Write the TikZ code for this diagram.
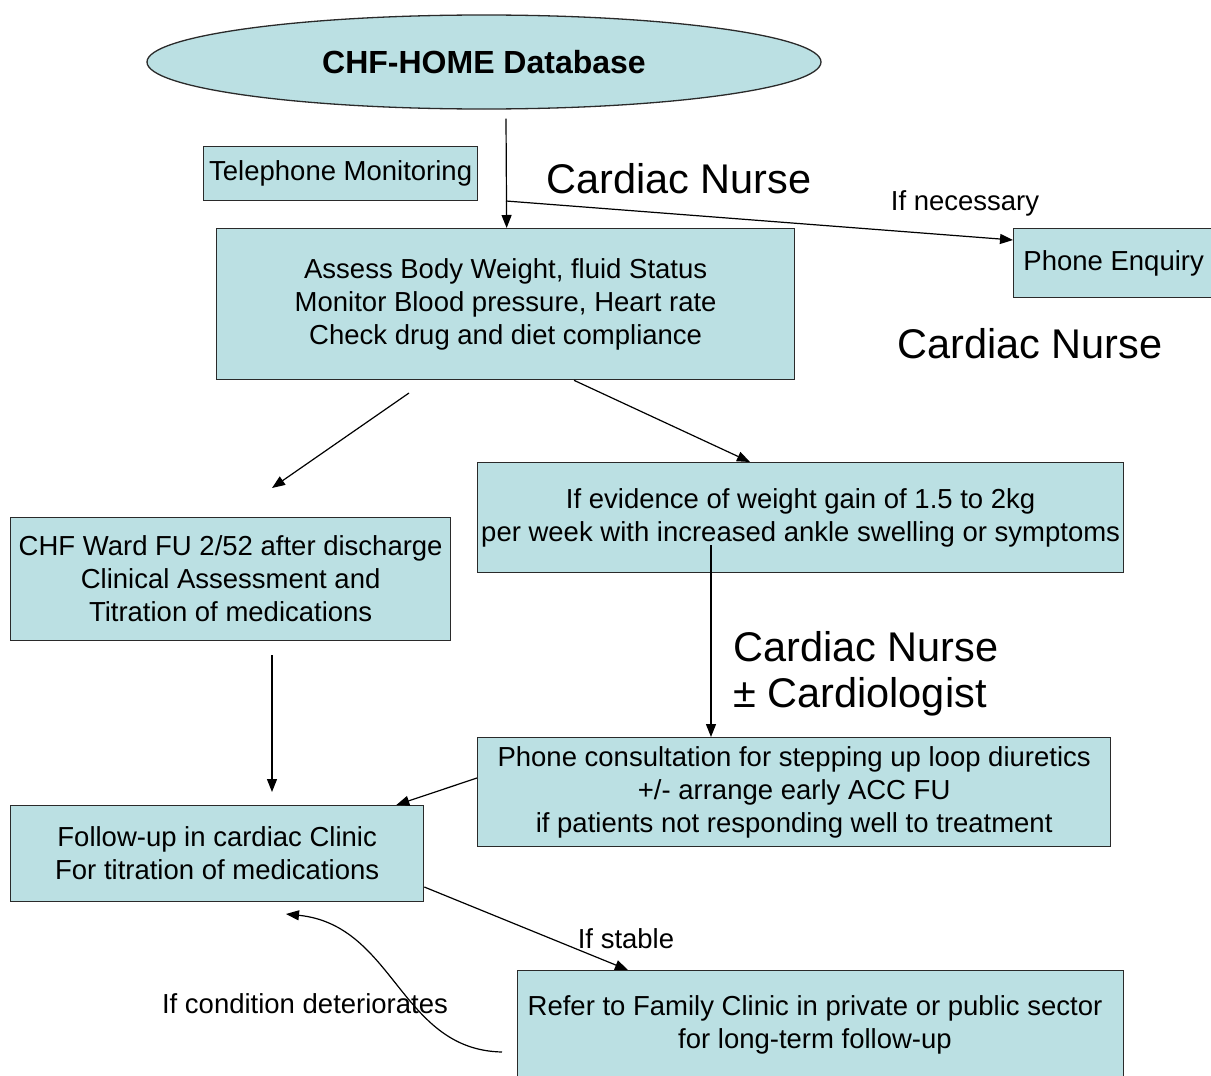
\documentclass[tikz,border=0pt]{standalone}
\usepackage{fontspec}
\setmainfont{Liberation Sans}
\usetikzlibrary{shapes.geometric,arrows.meta}
\definecolor{boxfill}{HTML}{BBE0E3}
\definecolor{edge}{HTML}{2A2A2A}
\begin{document}
\begin{tikzpicture}[x=1pt,y=-1pt,
 box/.style={draw=edge, line width=1.3pt, fill=boxfill, align=center, inner sep=0pt, anchor=north west, font=\fontsize{27.5}{33}\selectfont},
 arr/.style={-{Triangle[length=13pt,width=10pt]}, line width=1.2pt},
 lbl/.style={font=\fontsize{27.5}{33}\selectfont, inner sep=0pt},
 big/.style={font=\fontsize{41.5}{50}\selectfont, inner sep=0pt, align=left}]
\useasboundingbox (0,0) rectangle (1211,1076);
\fill[white] (0,0) rectangle (1211,1076);

\node[ellipse, draw=edge, fill=boxfill, minimum width=674pt, minimum height=94pt, inner sep=0pt, line width=1.3pt, font=\bfseries\fontsize{32}{36}\selectfont] (db) at (484,62) {CHF-HOME Database};

\node[box, minimum width=274pt, minimum height=54pt] (tel) at (203,146) {Telephone Monitoring};
\node[box, minimum width=578pt, minimum height=151pt] (assess) at (216,228) {Assess Body Weight, fluid Status\\Monitor Blood pressure, Heart rate\\Check drug and diet compliance};
\node[box, minimum width=200pt, minimum height=69pt] (phone) at (1013,228) {Phone Enquiry};
\node[box, minimum width=646pt, minimum height=110pt] (weight) at (477,462) {If evidence of weight gain of 1.5 to 2kg\\per week with increased ankle swelling or symptoms};
\node[box, minimum width=440pt, minimum height=123pt] (ward) at (10,517) {CHF Ward FU 2/52 after discharge\\Clinical Assessment and\\Titration of medications};
\node[box, minimum width=633pt, minimum height=109pt] (consult) at (477,737) {Phone consultation for stepping up loop diuretics\\+/- arrange early ACC FU\\if patients not responding well to treatment};
\node[box, minimum width=413pt, minimum height=96pt] (follow) at (10,805) {Follow-up in cardiac Clinic\\For titration of medications};
\node[box, minimum width=606pt, minimum height=140pt] (refer) at (517,970) {};
\node[lbl, align=center] (refertext) at (815,1025) {Refer to Family Clinic in private or public sector\\for long-term follow-up};

\node[big] (cn1) at (679,179) {Cardiac Nurse};
\node[big] (cn2) at (1030,344) {Cardiac Nurse};
\node[big, anchor=west] (cn3) at (733,647) {Cardiac Nurse};
\node[big, anchor=west] (cn4) at (733,697) {± Cardiologist};

\node[lbl] (nec) at (965,203) {If necessary};
\node[lbl] (stable) at (626,939) {If stable};
\node[lbl] (deter) at (305,1004) {If condition deteriorates};

\coordinate (split) at (506,201);
\coordinate (a1) at (409,393);
\coordinate (a2) at (272,488);
\coordinate (b1) at (272,655);
\coordinate (b2) at (272,792);
\coordinate (c1) at (502,1052);
\coordinate (c2) at (286,914);

\draw[arr] ([xshift=22pt,yshift=-9pt]db.south) -- ([xshift=1pt]assess.north);
\draw[arr] (split) -- ([yshift=-12pt]phone.north west);
\draw[arr] (a1) -- (a2);
\draw[arr] ([xshift=358pt]assess.south west) -- ([xshift=273pt]weight.north west);
\draw[arr] (b1) -- (b2);
\draw[arr] ([xshift=234pt,yshift=-83pt]weight.north west) -- ([xshift=234pt]consult.north west);
\draw[arr] ([yshift=-41pt]consult.north west) -- ([xshift=-28pt]follow.north east);
\draw[arr] ([yshift=-82pt]follow.north east) -- ([xshift=111pt]refer.north west);
\draw[arr] (c1) .. controls (400,1050) and (395,925) .. (c2);
\end{tikzpicture}
\end{document}
